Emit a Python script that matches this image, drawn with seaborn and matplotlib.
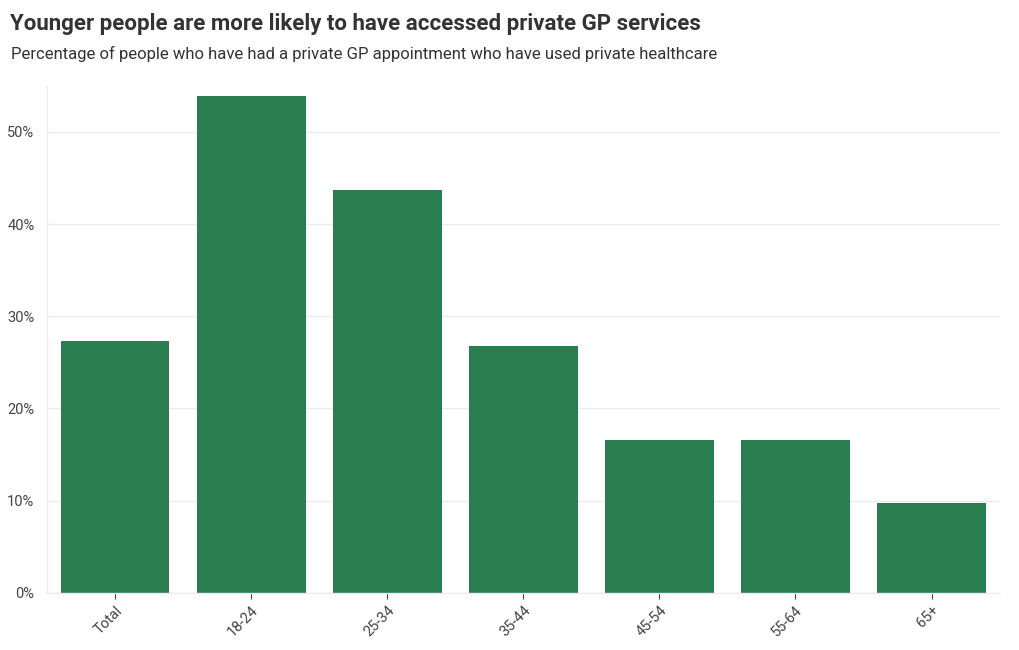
import matplotlib
matplotlib.use("Agg")
import matplotlib.pyplot as plt
import pandas as pd
import seaborn as sns
from matplotlib.ticker import PercentFormatter

# data
age_groups = ["Total", "18-24", "25-34", "35-44", "45-54", "55-64", "65+"]
pct_private = [27.3, 53.9, 43.7, 26.8, 16.6, 16.6, 9.7]

title = "Younger people are more likely to have accessed private GP services"
subtitle = "Percentage of people who have had a private GP appointment who have used private healthcare"

sns.set_theme(style="white")
plt.rcParams["font.family"] = ["Roboto", "DejaVu Sans"]

df = pd.DataFrame({"group": age_groups, "pct": pct_private})

fig = plt.figure(figsize=(10.2, 6.5), dpi=100)
ax = fig.add_axes([0.046, 0.088, 0.934, 0.78])

sns.barplot(data=df, x="group", y="pct", color="#2a7d4f", width=0.8,
            saturation=1, linewidth=0, ax=ax)

ax.set_ylim(0, 55)
ax.set_yticks([0, 10, 20, 30, 40, 50])
ax.yaxis.set_major_formatter(PercentFormatter(decimals=0))
ax.grid(axis="y", color="#ececec", linewidth=1)
ax.set_axisbelow(True)
ax.set_xlabel("")
ax.set_ylabel("")

for s in ["top", "right"]:
    ax.spines[s].set_visible(False)
for s in ["left", "bottom"]:
    ax.spines[s].set_color("#ececec")
    ax.spines[s].set_linewidth(1)

ax.tick_params(axis="y", labelsize=10.5, colors="#444444", length=0, pad=9)
ax.tick_params(axis="x", labelsize=10.5, colors="#444444", length=4, width=0.8,
               bottom=True)
for t in ax.xaxis.get_ticklines():
    t.set_color("#e6e6e6")
plt.setp(ax.get_xticklabels(), rotation=45, ha="right", rotation_mode="anchor")

fig.text(0.010, 0.963, title, fontsize=16, fontweight="bold", color="#333333",
         va="center")
fig.text(0.011, 0.917, subtitle, fontsize=12, color="#333333", va="center")

fig.savefig("out.png", dpi=100)
